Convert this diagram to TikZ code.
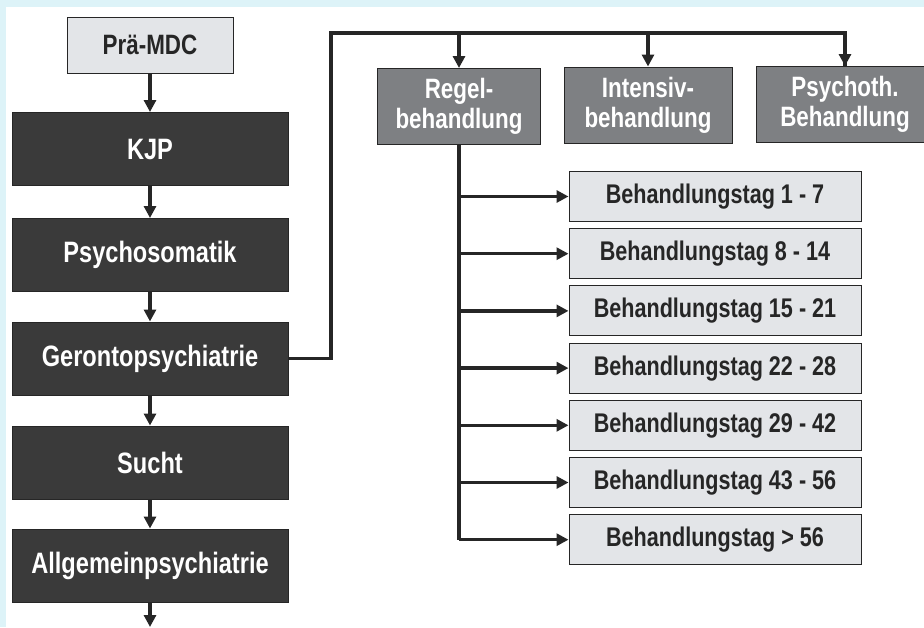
\documentclass[tikz,border=0pt]{standalone}
\usepackage{fontspec}
\newfontfamily\narrowfont[FakeStretch=0.8]{Liberation Sans}
\usetikzlibrary{arrows.meta}
\definecolor{bgcyan}{HTML}{DDF3F8}
\definecolor{darkbox}{HTML}{3A3A3A}
\definecolor{midbox}{HTML}{7E8083}
\definecolor{lightbox}{HTML}{E3E5E8}
\definecolor{linecol}{HTML}{262626}
\tikzset{
  base/.style={draw=linecol, line width=1pt, inner sep=0pt, align=center,
    font=\narrowfont\bfseries\fontsize{28}{30}\selectfont},
  darkstep/.style={base, fill=darkbox, text=white, minimum width=276pt, minimum height=73pt,
    font=\narrowfont\bfseries\fontsize{29.5}{31}\selectfont},
  prebox/.style={base, fill=lightbox, text=linecol, minimum width=166pt, minimum height=56pt},
  midstep/.style={base, fill=midbox, text=white, minimum height=76pt},
  daybox/.style={base, fill=lightbox, text=linecol, minimum width=292pt, minimum height=50pt,
    font=\narrowfont\bfseries\fontsize{27}{30}\selectfont},
  conn/.style={draw=linecol, line width=3.5pt},
  arr/.style={conn, -{Triangle[length=12pt,width=12pt]}},
}
\begin{document}
\begin{tikzpicture}[x=1pt,y=-1pt]
\clip (0,0) rectangle (924,627);
\fill[bgcyan] (0,0) rectangle (924,627);
\fill[white] (6,7) rectangle (924,627);

% left column
\node[prebox] (pre) at (150,45) {Prä-MDC};
\node[darkstep] (kjp) at (150,149) {KJP};
\node[darkstep] (pso) at (150,255) {Psychosomatik};
\node[darkstep] (ger) at (150,358.5) {Gerontopsychiatrie};
\node[darkstep] (such) at (150,462.5) {Sucht};
\node[darkstep] (allg) at (150,565.5) {Allgemeinpsychiatrie};
\coordinate (bottom) at (150,627);

\draw[arr] (pre) -- (kjp);
\draw[arr] (kjp) -- (pso);
\draw[arr] (pso) -- (ger);
\draw[arr] (ger) -- (such);
\draw[arr] (such) -- (allg);
\draw[arr] (allg) -- (bottom);

% top row
\node[midstep, minimum width=163pt] (regel) at (459,106.5) {Regel-\\behandlung};
\node[midstep, minimum width=168pt] (inten) at (648,105) {Intensiv-\\behandlung};
\node[midstep, minimum width=178pt] (psyth) at (845,104.5) {Psychoth.\\Behandlung};

\coordinate (c1) at (331,358.5);
\coordinate (c2) at (331,33);
\coordinate (c3) at (459,33);
\coordinate (c4) at (648,33);
\coordinate (c5) at (845,33);
\draw[conn, line join=miter] (ger.east) -- (c1) -- (c2) -- (c5) -- (c5 |- psyth.north);
\draw[arr] (c5) -- (psyth.north);
\draw[arr] (c3) -- (regel.north);
\draw[arr] (c4) -- (inten.north);

% day boxes
\foreach \i/\t in {0/{Behandlungstag 1 - 7},1/{Behandlungstag 8 - 14},2/{Behandlungstag 15 - 21},
  3/{Behandlungstag 22 - 28},4/{Behandlungstag 29 - 42},5/{Behandlungstag 43 - 56},6/{Behandlungstag > 56}}{
  \node[daybox] (d\i) at (715,196.5+57.2*\i) {\t};
  \draw[arr] (regel.south |- d\i) -- (d\i.west);
}
\draw[conn] (regel.south) -- (regel.south |- d6.center);
\end{tikzpicture}
\end{document}
